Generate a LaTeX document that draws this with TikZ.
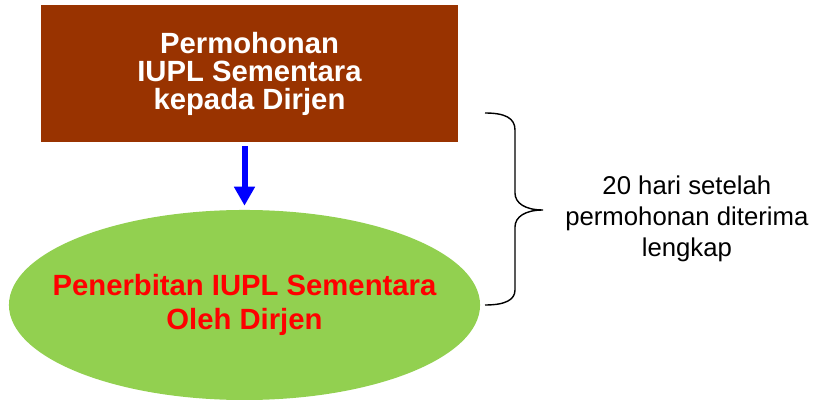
\documentclass[tikz,border=0pt]{standalone}
\usepackage{fontspec}
\setmainfont{Liberation Sans}
\usetikzlibrary{shapes.geometric,arrows.meta,positioning,calc}
\definecolor{izinbrown}{HTML}{993300}
\definecolor{izingreen}{HTML}{92D050}
\definecolor{izinred}{HTML}{FF0000}
\definecolor{izinblue}{HTML}{0000FF}

\begin{document}
\begin{tikzpicture}[x=0.025cm, y=-0.025cm,
    req/.style={rectangle, fill=izinbrown, text=white, inner sep=0pt,
                minimum width=10.425cm, minimum height=3.425cm, align=center,
                font=\fontsize{20.8}{19.9}\selectfont\bfseries},
    issue/.style={ellipse, fill=izingreen, text=izinred, inner ysep=0pt, inner xsep=-0.8cm,
                minimum width=11.775cm, minimum height=4.75cm, align=center,
                font=\fontsize{20.8}{24.2}\selectfont\bfseries},
    note/.style={align=center, inner sep=0pt, font=\fontsize{18.3}{22.3}\selectfont},
    flow/.style={-{Triangle[width=0.5cm,length=0.475cm]}, line width=0.15cm, izinblue,
                 shorten <=0.1cm, shorten >=0.1cm}]
\useasboundingbox (0,0) rectangle (816,400);
\node[req] (req) at (249.5,73.5) {Permohonan\\IUPL Sementara\\kepada Dirjen};
\node[issue] (issue) at (244.5,305) {Penerbitan IUPL Sementara\\Oleh Dirjen};
\draw[flow] (issue.north |- req.south) -- (issue.north);
% brace over both steps
\coordinate (btop) at (485,113);
\coordinate (btip) at (543,210);
\coordinate (bbot) at (485,305);
\draw[line width=1pt] (btop) .. controls (505,113) and (515,118) .. (515,130) -- (515,193)
    .. controls (515,203) and (525,210) .. (btip)
    .. controls (525,210) and (515,217) .. (515,227) -- (515,290)
    .. controls (515,300) and (505,305) .. (bbot);
\node[note, right=0.55cm of btip, yshift=-0.22cm] (note) {20 hari setelah\\permohonan diterima\\lengkap};
\end{tikzpicture}
\end{document}
